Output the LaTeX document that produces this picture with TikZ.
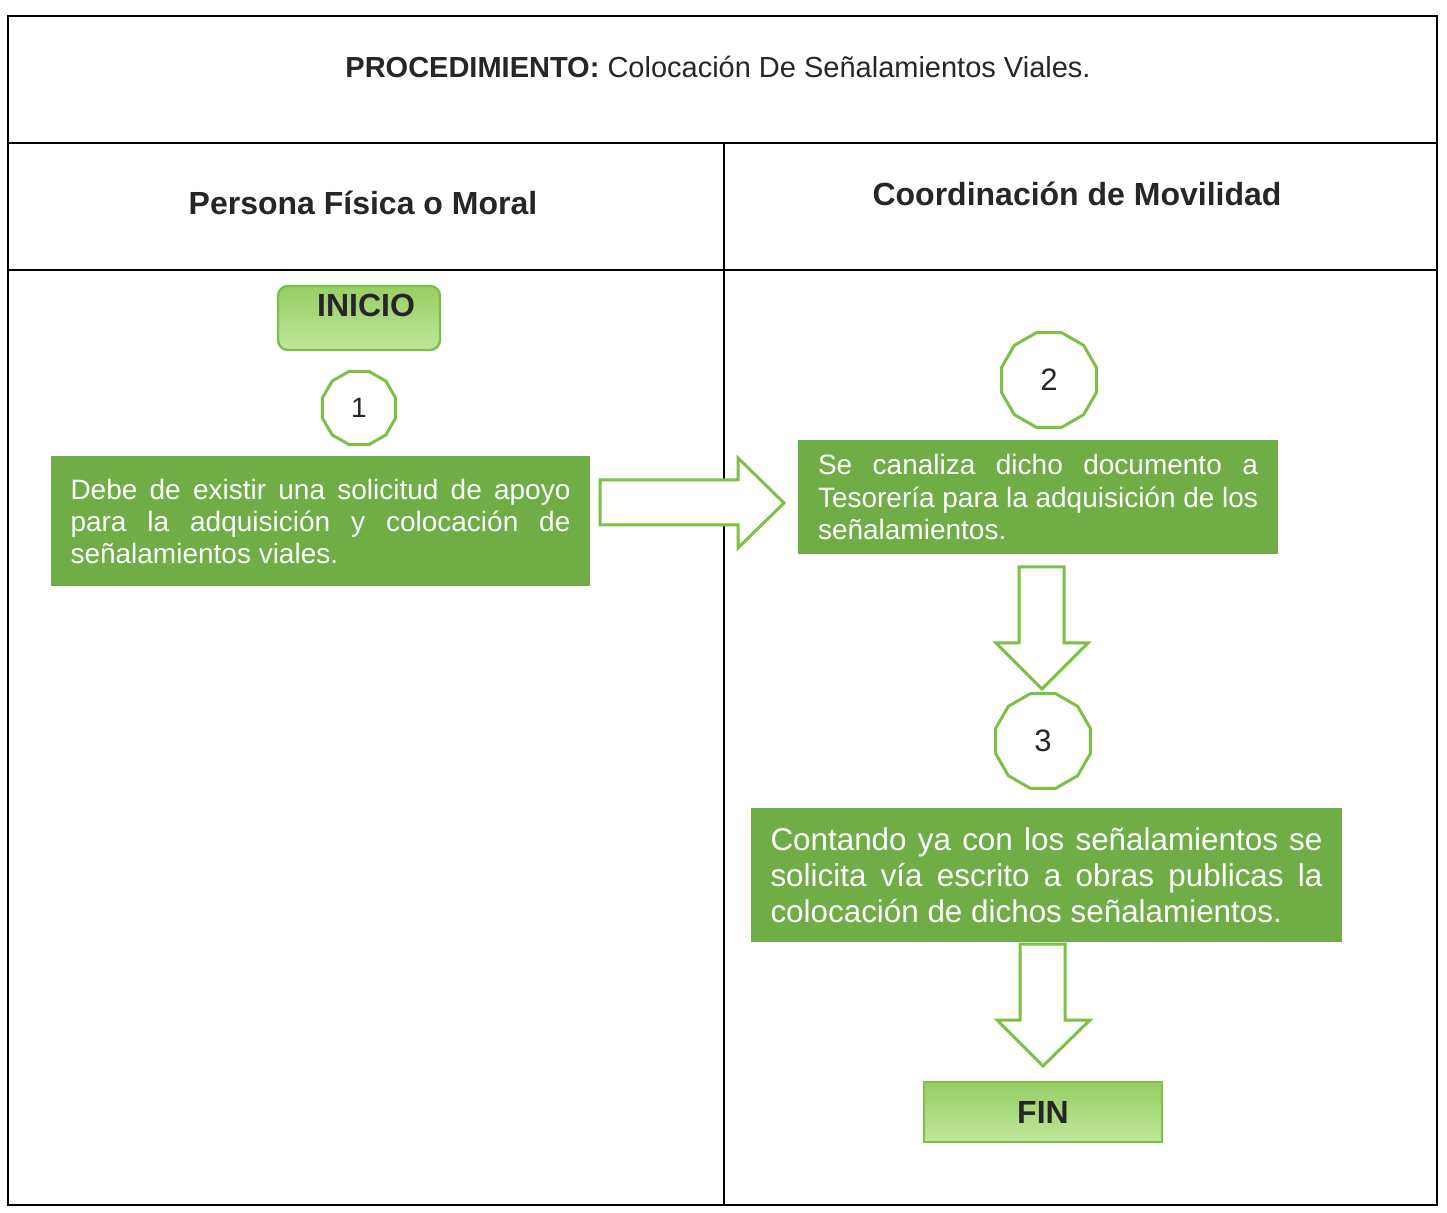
\documentclass[tikz,border=0pt]{standalone}
\usepackage{fontspec}
\setmainfont{Liberation Sans}
\usetikzlibrary{shapes.geometric}
\definecolor{boxgreen}{RGB}{112,173,71}
\definecolor{linegreen}{RGB}{125,192,72}
\definecolor{lightA}{RGB}{150,206,100}
\definecolor{lightB}{RGB}{192,230,155}
\definecolor{txt}{RGB}{38,38,38}
\tikzset{
  frame/.style={line width=1pt, draw=black},
  greenbox/.style={fill=boxgreen, draw=none, inner sep=0pt, text=white},
  termbox/.style={draw=linegreen, line width=1.2pt, top color=lightA, bottom color=lightB, inner sep=0pt},
  stepnum/.style={regular polygon, regular polygon sides=12, draw=linegreen, line width=1.5pt, fill=white, inner sep=0pt, text=txt},
  blockarrow/.style={draw=linegreen, line width=1.5pt, fill=white, line join=miter}
}
\begin{document}
\begin{tikzpicture}[x=0.5pt,y=-0.5pt]
\useasboundingbox (0,0) rectangle (1447,1213);
\fill[white] (0,0) rectangle (1447,1213);
% table
\draw[frame] (8,16) rectangle (1437,1205);
\draw[frame] (8,143) -- (1437,143);
\draw[frame] (8,270) -- (1437,270);
\draw[frame] (724,143) -- (724,1205);
\node[text=txt, font=\fontsize{14.5}{17}\selectfont] (title) at (718,67) {\textbf{PROCEDIMIENTO:} Colocación De Señalamientos Viales.};
\node[text=txt, font=\bfseries\fontsize{16}{19}\selectfont] (h1) at (363,203) {Persona Física o Moral};
\node[text=txt, font=\bfseries\fontsize{16}{19}\selectfont] (h2) at (1077,194) {Coordinación de Movilidad};
% start
\node[termbox, rounded corners=5pt, minimum width=81pt, minimum height=32pt] (inicio) at (359,318) {};
\node[text=txt, font=\bfseries\fontsize{16}{19}\selectfont] (iniciotxt) at ([xshift=3.5pt,yshift=6.5pt]inicio.center) {INICIO};
\node[stepnum, minimum size=38pt, font=\fontsize{14}{16}\selectfont] (n1) at (359,408) {1};
\node[greenbox, minimum width=269.5pt, minimum height=65pt, font=\fontsize{14}{16}\selectfont, align=left] (b1) at (320.5,521)
 {\makebox[250pt][s]{Debe de existir una solicitud de apoyo}\\
  \makebox[250pt][s]{para la adquisición y colocación de}\\
  \makebox[250pt][l]{señalamientos viales.}};
% right arrow
\draw[blockarrow] (600,480) -- (738,480) -- (738,458) -- (784,503) -- (738,548) -- (738,525) -- (600,525) -- cycle;
% lane 2
\node[stepnum, minimum size=49pt, font=\fontsize{15.5}{17}\selectfont] (n2) at (1049,380) {2};
\node[greenbox, minimum width=240pt, minimum height=57pt, font=\fontsize{14}{16.2}\selectfont, align=left] (b2) at (1038,497)
 {\makebox[220pt][s]{Se canaliza dicho documento a}\\
  \makebox[220pt][s]{Tesorería para la adquisición de los}\\
  \makebox[220pt][l]{señalamientos.}};
\draw[blockarrow] (1019,567) -- (1064,567) -- (1064,643) -- (1088,643) -- (1042,689) -- (996,643) -- (1019,643) -- cycle;
\node[stepnum, minimum size=49pt, font=\fontsize{15.5}{17}\selectfont] (n3) at (1043,741) {3};
\node[greenbox, minimum width=295.5pt, minimum height=67pt, font=\fontsize{15.7}{18}\selectfont, align=left] (b3) at (1046.5,875)
 {\makebox[276pt][s]{Contando ya con los señalamientos se}\\
  \makebox[276pt][s]{solicita vía escrito a obras publicas la}\\
  \makebox[276pt][l]{colocación de dichos señalamientos.}};
\draw[blockarrow] (1020,944) -- (1065,944) -- (1065,1020) -- (1090,1020) -- (1043,1066) -- (997,1020) -- (1020,1020) -- cycle;
\node[termbox, minimum width=119pt, minimum height=30pt, text=txt, font=\bfseries\fontsize{16}{19}\selectfont] (fin) at (1043,1112) {FIN};
\end{tikzpicture}
\end{document}
